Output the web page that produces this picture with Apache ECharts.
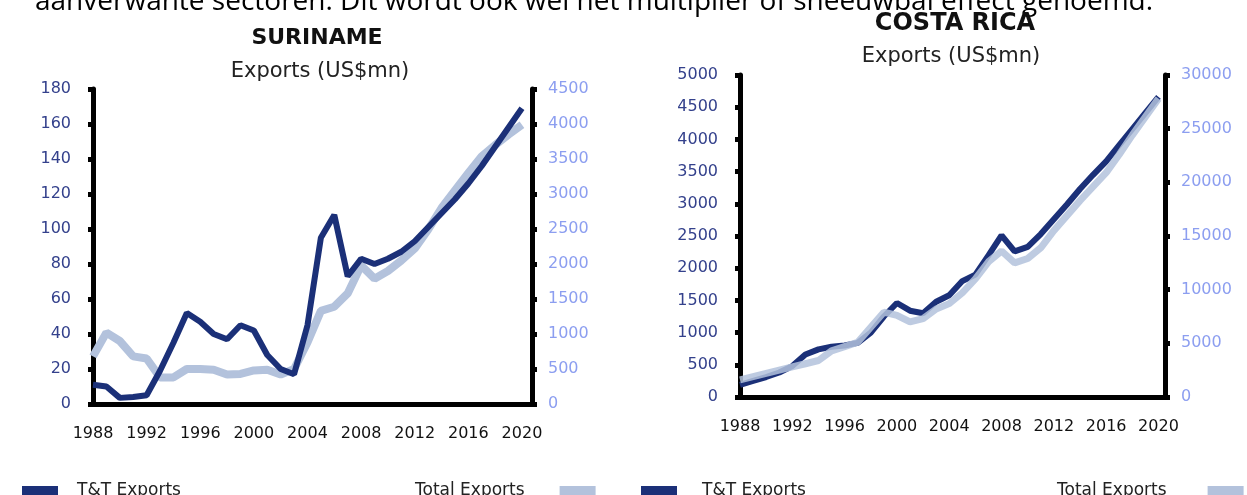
<!DOCTYPE html>
<html>
<head>
<meta charset="utf-8">
<script src="https://cdn.jsdelivr.net/npm/echarts@6/dist/echarts.min.js"></script>
<style>
  html, body { margin: 0; padding: 0; background: #fff; }
  #main { width: 1247px; height: 495px; }
</style>
</head>
<body>
<div id="main"></div>
<script>
  // years on the x axis
  var years = [1988, 1989, 1990, 1991, 1992, 1993, 1994, 1995, 1996, 1997, 1998,
    1999, 2000, 2001, 2002, 2003, 2004, 2005, 2006, 2007, 2008, 2009,
    2010, 2011, 2012, 2013, 2014, 2015, 2016, 2017, 2018, 2019, 2020];

  // Suriname, US$mn
  var surTT = [11, 10, 3.5, 4, 5, 19, 35, 52, 47, 40, 37, 45, 42, 28, 20, 17,
    45, 95, 108, 73, 83, 80, 83, 87, 93, 101, 109, 117, 126, 136, 147, 158, 169];
  var surTotal = [680, 1020, 900, 680, 650, 380, 380, 500, 500, 490, 420, 430,
    480, 490, 420, 500, 880, 1330, 1390, 1580, 1980, 1790, 1900, 2050, 2220,
    2490, 2800, 3050, 3300, 3540, 3700, 3850, 3990];

  // Costa Rica, US$mn
  var crTT = [190, 250, 310, 380, 480, 660, 740, 780, 800, 840, 1000, 1250, 1460,
    1340, 1300, 1480, 1580, 1800, 1900, 2200, 2510, 2260, 2330, 2530, 2760,
    2990, 3230, 3450, 3660, 3910, 4160, 4410, 4660];
  var crTotal = [1600, 1900, 2200, 2500, 2800, 3100, 3400, 4300, 4700, 5100, 6500,
    7900, 7600, 7000, 7300, 8200, 8700, 9700, 11000, 12600, 13600, 12500,
    12900, 13900, 15500, 16900, 18300, 19600, 20900, 22600, 24400, 26100, 27800];

  var introText = 'aanverwante sectoren. Dit wordt ook wel het multiplier of sneeuwbal effect genoemd.';

  var DARK = '#1b3078';
  var LIGHT = '#b3c2dc';
  var LEFT_LABEL = '#34418c';
  var RIGHT_LABEL = '#8c9ef0';
  var FONT = 'DejaVu Sans';

  function pairs(vals) {
    return years.map(function (y, i) { return [y, vals[i]]; });
  }

  function xAxis(grid, max) {
    return {
      type: 'value', gridIndex: grid, min: 1988, max: max, interval: 4,
      axisLine: { lineStyle: { color: '#000', width: 5 } },
      axisTick: { show: false },
      splitLine: { show: false },
      axisLabel: {
        color: '#111', fontSize: 16, fontFamily: FONT, margin: 22,
        showMaxLabel: false,
        formatter: function (v) { return String(v); }
      }
    };
  }

  function yAxis(grid, pos, max, step, color, margin) {
    return {
      type: 'value', gridIndex: grid, position: pos, min: 0, max: max, interval: step,
      axisLine: { show: true, lineStyle: { color: '#000', width: 5 } },
      axisTick: { show: true, length: 5, lineStyle: { color: '#000', width: 5 } },
      splitLine: { show: false },
      axisLabel: {
        color: color, fontSize: 16, fontFamily: FONT, margin: margin,
        formatter: function (v) { return String(v); }
      }
    };
  }

  function legend(name, left, align, pad) {
    return {
      data: [name], left: left, top: 477, align: align,
      icon: 'rect', itemWidth: 36, itemHeight: 9,
      selectedMode: false,
      textStyle: { color: '#222', fontSize: 17, fontFamily: FONT, padding: pad }
    };
  }

  var chart = echarts.init(document.getElementById('main'));

  var option = {
    animation: false,
    backgroundColor: '#fff',
    title: [
      { text: 'SURINAME', left: 312, top: 22, textAlign: 'center',
        textStyle: { fontSize: 22, fontWeight: 'bold', color: '#111', fontFamily: FONT } },
      { text: 'Exports (US$mn)', left: 315, top: 56, textAlign: 'center',
        textStyle: { fontSize: 21, fontWeight: 'normal', color: '#222', fontFamily: FONT } },
      { text: 'COSTA RICA', left: 950, top: 7, textAlign: 'center',
        textStyle: { fontSize: 24, fontWeight: 'bold', color: '#111', fontFamily: FONT } },
      { text: 'Exports (US$mn)', left: 946, top: 41, textAlign: 'center',
        textStyle: { fontSize: 21, fontWeight: 'normal', color: '#222', fontFamily: FONT } }
    ],
    // running text of the page, cut off at the top edge
    graphic: [
      { type: 'text', x: 35, y: -12, z: 1,
        style: { text: introText, fontSize: 28, fontFamily: 'Open Sans', fill: '#000' } }
    ],
    legend: [
      legend('T&T Exports', 17, 'left', [0, 0, 0, 14]),
      legend('Total Exports', 410, 'right', [0, 30, 0, 0]),
      legend('T&T Exports', 636, 'left', [0, 0, 0, 20]),
      legend('Total Exports', 1052, 'right', [0, 36, 0, 0])
    ],
    grid: [
      { left: 93, top: 89, width: 439, height: 315 },
      { left: 740, top: 75, width: 425, height: 322 }
    ],
    xAxis: [xAxis(0, 2020.75), xAxis(1, 2020.5)],
    yAxis: [
      yAxis(0, 'left', 180, 20, LEFT_LABEL, 22),
      yAxis(0, 'right', 4500, 500, RIGHT_LABEL, 16),
      yAxis(1, 'left', 5000, 500, LEFT_LABEL, 22),
      yAxis(1, 'right', 30000, 5000, RIGHT_LABEL, 16)
    ],
    series: [
      { name: 'Total Exports', type: 'line', xAxisIndex: 0, yAxisIndex: 1,
        data: pairs(surTotal), symbol: 'none', z: 2,
        lineStyle: { color: LIGHT, width: 8 }, itemStyle: { color: LIGHT } },
      { name: 'T&T Exports', type: 'line', xAxisIndex: 0, yAxisIndex: 0,
        data: pairs(surTT), symbol: 'none', z: 3,
        lineStyle: { color: DARK, width: 6 }, itemStyle: { color: DARK } },
      { name: 'T&T Exports', type: 'line', xAxisIndex: 1, yAxisIndex: 2,
        data: pairs(crTT), symbol: 'none', z: 2,
        lineStyle: { color: DARK, width: 6 }, itemStyle: { color: DARK } },
      { name: 'Total Exports', type: 'line', xAxisIndex: 1, yAxisIndex: 3,
        data: pairs(crTotal), symbol: 'none', z: 3,
        lineStyle: { color: LIGHT, width: 7, opacity: 0.85 }, itemStyle: { color: LIGHT } }
    ]
  };

  chart.setOption(option);
</script>
</body>
</html>
